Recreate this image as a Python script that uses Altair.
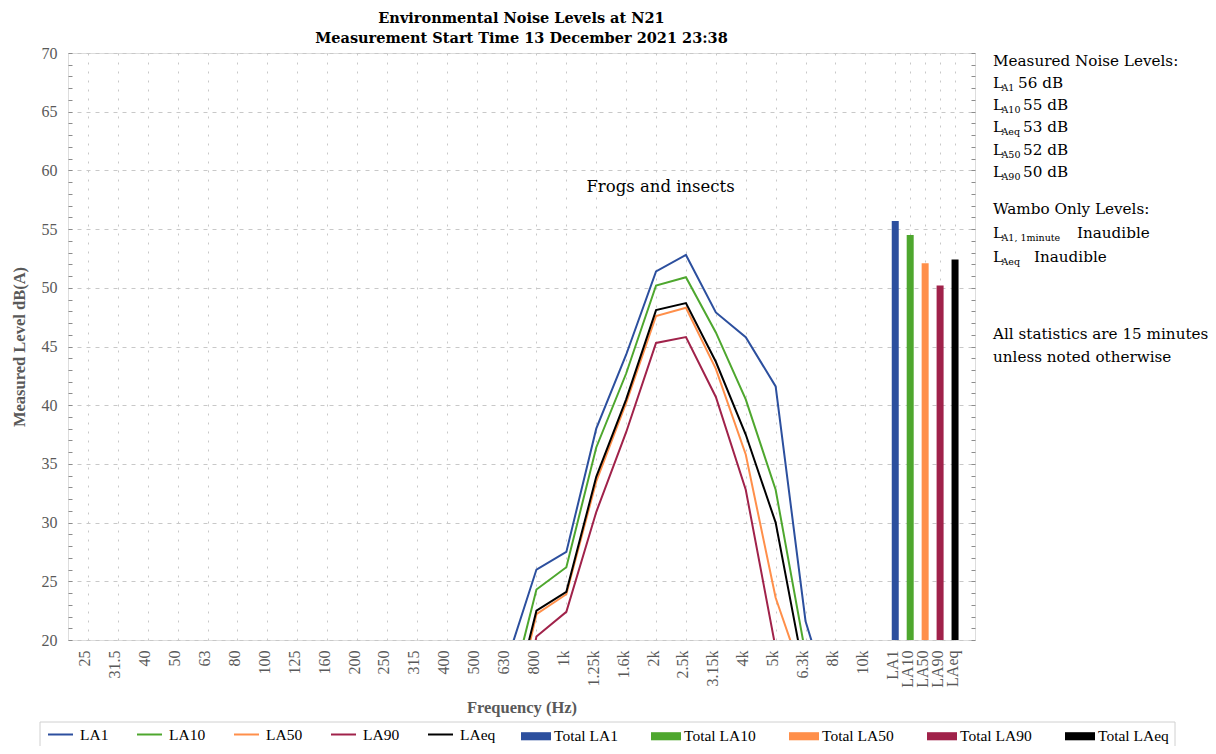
import altair as alt
import pandas as pd

# ---------------- data ----------------
freq_labels = ["25", "31.5", "40", "50", "63", "80", "100", "125", "160", "200", "250",
               "315", "400", "500", "630", "800", "1k", "1.25k", "1.6k", "2k", "2.5k",
               "3.15k", "4k", "5k", "6.3k", "8k", "10k"]
stat_labels = ["LA1", "LA10", "LA50", "LA90", "LAeq"]

# spectra from the 630 Hz band (index 14) up to 8 kHz; anything under 20 dB is clipped
band_start = 14
LA1 = [18.1, 26.0, 27.5, 38.0, 44.3, 51.4, 52.8, 47.9, 45.8, 41.6, 21.6, 13.3]
LA10 = [14.2, 24.3, 26.2, 36.4, 42.7, 50.2, 50.9, 46.2, 40.5, 32.8, 18.8, 11.0]
LA50 = [11.2, 22.2, 23.9, 33.5, 40.2, 47.6, 48.3, 43.1, 35.8, 23.6, 16.2, 9.5]
LA90 = [8.0, 20.3, 22.4, 30.9, 37.7, 45.3, 45.8, 40.7, 32.8, 19.3, 12.0, 8.0]
LAeq = [12.3, 22.5, 24.1, 33.9, 40.5, 48.1, 48.7, 43.7, 37.5, 30.0, 16.6, 10.0]
total_levels = [55.7, 54.5, 52.1, 50.2, 52.4]

colors = ["#2c4f9e", "#4ea72e", "#ff8f4a", "#a0224a", "#000000"]

annot_text = ["Frogs and insects"]
annot_pos = [19.15]
annot_level = [58.2]

note_text = ["Measured Noise Levels:", "Wambo Only Levels:",
             "All statistics are 15 minutes", "unless noted otherwise"]
level_subs = ["A1", "A10", "Aeq", "A50", "A90", "A1, 1minute", "Aeq"]
level_vals = ["56 dB", "55 dB", "53 dB", "52 dB", "50 dB", "Inaudible", "Inaudible"]

# layout (pixels, relative to plot origin) for the side notes and legend frame
note_x = 925
note_y = [13, 161, 286, 309]
level_y = [35, 57, 79, 102, 124, 185, 209]
value_x = [950, 955, 955, 955, 955, 1009, 966]
legend_top = 668
legend_box = {"x": [-28], "x2": [1107], "y": [legend_top + 1], "y2": [legend_top + 40]}

# ---------------- tables ----------------
rows = []
for name, vals in zip(stat_labels, [LA1, LA10, LA50, LA90, LAeq]):
    for i, v in enumerate(vals):
        rows.append({"pos": band_start + i, "series": name, "value": v})
lines_df = pd.DataFrame(rows)

total_names = ["Total " + s for s in stat_labels]
bars_df = pd.DataFrame({
    "pos": [len(freq_labels) + 0.5 * j for j in range(len(stat_labels))],
    "series": total_names,
    "value": total_levels,
})

annot_df = pd.DataFrame({"pos": annot_pos, "value": annot_level, "text": annot_text})
notes_df = pd.DataFrame({"text": note_text, "x": [note_x] * len(note_text), "y": note_y})
L_df = pd.DataFrame({"text": ["L"] * len(level_subs), "x": [note_x] * len(level_subs), "y": level_y})
sub_df = pd.DataFrame({"text": level_subs, "x": [note_x + 8.5] * len(level_subs),
                       "y": [v + 3 for v in level_y]})
val_df = pd.DataFrame({"text": level_vals, "x": value_x, "y": level_y})
box_df = pd.DataFrame(legend_box)

tick_vals = list(range(len(freq_labels))) + [len(freq_labels) + 0.5 * j for j in range(len(stat_labels))]
label_expr = (
    f"datum.value < {len(freq_labels) - 0.5} ? {freq_labels}[round(datum.value)] : "
    f"{stat_labels}[round((datum.value - {len(freq_labels)}) * 2)]"
)

x_scale = alt.Scale(domain=[-0.5, 29.5], nice=False, zero=False)
y_scale = alt.Scale(domain=[20, 70], nice=False, zero=False)

GREY = "#595959"
SERIF = "Liberation Serif"
WIDE = "DejaVu Serif"

x_axis = alt.Axis(
    values=tick_vals, labelExpr=label_expr, labelAngle=270, labelFont=SERIF,
    labelFontSize=16, labelColor=GREY, labelPadding=10, labelOffset=-3,
    ticks=False, domain=False, grid=True, gridDash=[2, 7], gridColor="#c8c8c8",
    labelOverlap=False, labelFlush=False, labelBound=False,
    title="Frequency (Hz)", titleFont=SERIF, titleFontSize=16.5, titleFontWeight="bold",
    titleColor=GREY, titlePadding=12,
)
y_axis = alt.Axis(
    values=list(range(20, 71)), labelExpr="datum.value % 5 === 0 ? datum.label : ''",
    tickSize=4, offset=-4, tickColor="#8c8c8c", domain=False, labelPadding=11,
    labelFont=SERIF, labelFontSize=16, labelColor=GREY, labelOverlap=False,
    grid=True, gridDash=[4, 5], gridColor="#c8c8c8",
    gridOpacity={"condition": {"test": "datum.value % 5 === 0", "value": 1}, "value": 0},
    title="Measured Level dB(A)", titleFont=SERIF, titleFontSize=16.5,
    titleFontWeight="bold", titleColor=GREY, titlePadding=14,
)
y_axis_right = alt.Axis(
    orient="right", values=list(range(20, 71)), tickSize=4, offset=-4,
    tickColor="#8c8c8c", labels=False, domain=False, grid=False, title=None,
)

line_legend = alt.Legend(
    orient="none", legendX=-21, legendY=legend_top, direction="horizontal", title=None,
    symbolType="stroke", symbolSize=625, symbolStrokeWidth=2, symbolFillColor="transparent",
    labelFont=SERIF, labelFontSize=15.5, labelColor="black",
    columnPadding=24, labelOffset=6, padding=0, labelLimit=0,
)
bar_legend = alt.Legend(
    orient="none", legendX=453, legendY=legend_top, direction="horizontal", title=None,
    symbolType="M-1,-0.27H1V0.27H-1Z", symbolSize=900, symbolStrokeWidth=0,
    symbolOpacity=1, labelFont=SERIF, labelFontSize=15.5, labelColor="black",
    columnPadding=33, labelOffset=3, padding=0, labelLimit=0,
)

lines = alt.Chart(lines_df).mark_line(strokeWidth=2, clip=True).encode(
    x=alt.X("pos:Q", scale=x_scale, axis=x_axis),
    y=alt.Y("value:Q", scale=y_scale, axis=y_axis),
    stroke=alt.Stroke("series:N", scale=alt.Scale(domain=stat_labels, range=colors),
                      legend=line_legend),
    order=alt.Order("pos:Q"),
)

bars = alt.Chart(bars_df).mark_bar(size=7, clip=True).encode(
    x=alt.X("pos:Q", scale=x_scale, axis=x_axis),
    y=alt.Y("value:Q", scale=y_scale, axis=y_axis_right),
    y2=alt.datum(20),
    fill=alt.Fill("series:N", scale=alt.Scale(domain=total_names, range=colors),
                  legend=bar_legend),
)

annot = alt.Chart(annot_df).mark_text(font=WIDE, fontSize=16.5, color="black",
                                      align="center", baseline="alphabetic").encode(
    x=alt.X("pos:Q", scale=x_scale, axis=x_axis),
    y=alt.Y("value:Q", scale=y_scale, axis=None),
    text="text:N",
)


def px_text(df, size, align="left"):
    return alt.Chart(df).mark_text(font=WIDE, fontSize=size, color="black",
                                   align=align, baseline="alphabetic").encode(
        x=alt.X("x:Q", scale=None, axis=None),
        y=alt.Y("y:Q", scale=None, axis=None),
        text="text:N",
    )


notes = px_text(notes_df, 15.2)
L_txt = px_text(L_df, 15.2)
subs = px_text(sub_df, 9.5)
vals = px_text(val_df, 15.2)

frame = alt.Chart(box_df).mark_rect(fill=None, stroke="#d0d0d0", strokeWidth=1).encode(
    x=alt.X("x:Q", scale=None, axis=None), x2="x2:Q",
    y=alt.Y("y:Q", scale=None, axis=None), y2="y2:Q",
)

chart = alt.layer(lines, bars, annot, frame, notes, L_txt, subs, vals).resolve_axis(
    y="independent"
).properties(
    width=907, height=587,
    padding={"left": 60, "top": 45, "right": 233, "bottom": 106},
    autosize=alt.AutoSizeParams(type="none"),
    title=alt.TitleParams(
        text=["Environmental Noise Levels at N21",
              "Measurement Start Time 13 December 2021 23:38"],
        font=WIDE, fontSize=14.5, fontWeight="bold", color="black",
        anchor="middle", offset=-1, lineHeight=20,
    ),
).configure_view(stroke="#bfbfbf", strokeWidth=1.5).configure(background="white")

chart.save("out.html", embed_options={"renderer": "svg", "actions": False})
